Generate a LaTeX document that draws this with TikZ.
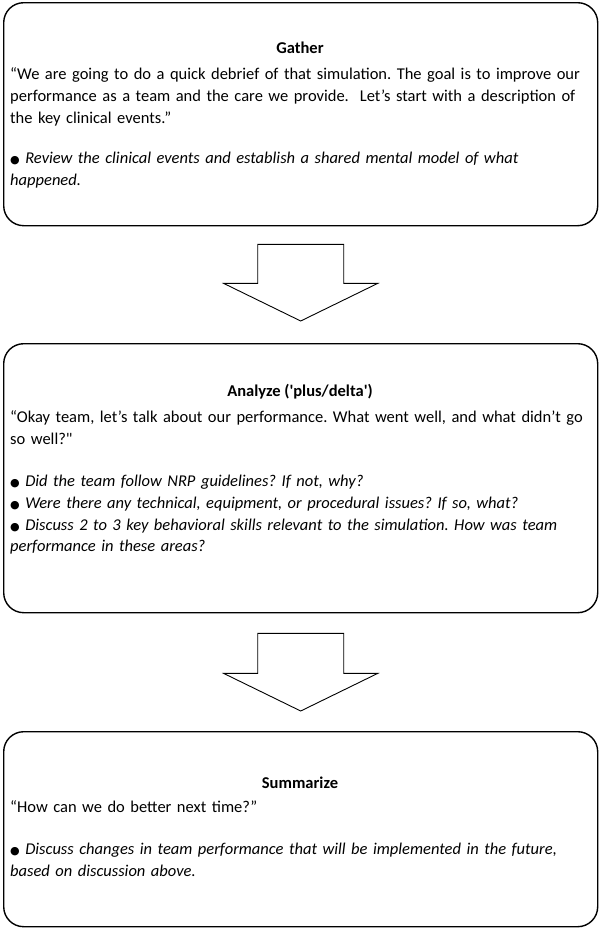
\documentclass[tikz,border=0pt]{standalone}
\usepackage{fontspec}
\setmainfont{Carlito}[Ligatures=TeXOff]
\newfontfamily\symfont{DejaVu Sans}
\usetikzlibrary{calc}
\newcommand{\bul}{{\symfont\fontsize{11}{22}\selectfont ●}\ }
\begin{document}
\frenchspacing
\begin{tikzpicture}[x=1pt,y=-1pt,
  box/.style={draw=black, line width=1.4pt, rounded corners=20pt, inner sep=0pt, anchor=north west},
  title/.style={font=\fontsize{16.5}{22}\selectfont\bfseries, anchor=base, inner sep=0pt},
  body/.style={font=\fontsize{16.5}{21.8}\selectfont\frenchspacing, anchor=north west, inner sep=0pt, text width=588pt, align=left},
  blockarrow/.style={draw=black, line width=0.9pt, fill=white, line join=miter}]
\useasboundingbox (0,0) rectangle (600,929);

% boxes
\node[box, minimum width=594pt, minimum height=223pt] (g) at (3,2) {};
\node[box, minimum width=594pt, minimum height=269pt] (a) at (3,343) {};
\node[box, minimum width=594pt, minimum height=195pt] (s) at (3,731) {};

% Gather
\node[title] (gt) at (300,53) {Gather};
\node[body] (gb) at (10,64.5) {\strut “We are going to do a quick debrief of that simulation. The goal is to improve our\\
performance as a team and the care we provide.\ \ Let’s start with a description of\\
the key clinical events.”\\[18pt]
\bul\textit{Review the clinical events and establish a shared mental model of what}\\
\textit{happened.}};

% Analyze
\node[title] (at) at (300,396) {Analyze ('plus/delta')};
\node[body] (ab) at (10,407.5) {\strut “Okay team, let’s talk about our performance. What went well, and what didn’t go\\
so well?"\\[20pt]
\bul\textit{Did the team follow NRP guidelines? If not, why?}\\
\bul\textit{Were there any technical, equipment, or procedural issues? If so, what?}\\
\bul\textit{Discuss 2 to 3 key behavioral skills relevant to the simulation. How was team}\\
\textit{performance in these areas?}};

% Summarize
\node[title] (st) at (300,788) {Summarize};
\node[body] (sb) at (10,797.5) {\strut “How can we do better next time?”\\[20pt]
\bul\textit{Discuss changes in team performance that will be implemented in the future,}\\
\textit{based on discussion above.}};

% block arrows
\draw[blockarrow] ($(g.south)+(-43,18)$) -- ($(g.south)+(43,18)$) -- ($(g.south)+(43,57)$)
  -- ($(g.south)+(77,57)$) -- ($(a.north)+(0,-22)$) -- ($(g.south)+(-77,57)$)
  -- ($(g.south)+(-43,57)$) -- cycle;
\draw[blockarrow] ($(a.south)+(-43,20)$) -- ($(a.south)+(43,20)$) -- ($(a.south)+(43,60)$)
  -- ($(a.south)+(77,60)$) -- ($(s.north)+(0,-20)$) -- ($(a.south)+(-77,60)$)
  -- ($(a.south)+(-43,60)$) -- cycle;
\end{tikzpicture}
\end{document}
